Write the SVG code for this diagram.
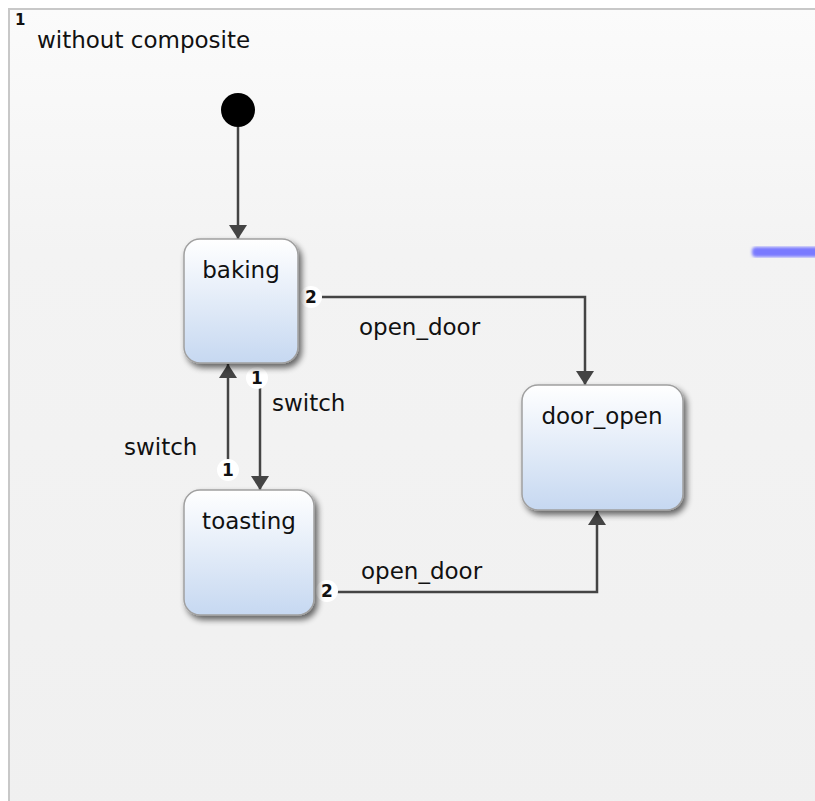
<svg xmlns="http://www.w3.org/2000/svg" width="815" height="801" viewBox="0 0 815 801">
<defs>
<linearGradient id="bg" x1="0" y1="0" x2="0" y2="1">
<stop offset="0" stop-color="#fbfbfb"/>
<stop offset="0.3" stop-color="#f3f3f3"/>
<stop offset="1" stop-color="#f0f0f0"/>
</linearGradient>
<linearGradient id="st" x1="0" y1="0" x2="0" y2="1">
<stop offset="0" stop-color="#ffffff"/>
<stop offset="1" stop-color="#c6d8f1"/>
</linearGradient>
<filter id="sh" x="-20%" y="-20%" width="150%" height="150%">
<feGaussianBlur in="SourceAlpha" stdDeviation="3"/>
<feOffset dx="3" dy="4" result="b"/>
<feComponentTransfer><feFuncA type="linear" slope="0.6"/></feComponentTransfer>
<feMerge><feMergeNode/><feMergeNode in="SourceGraphic"/></feMerge>
</filter>
<filter id="blur"><feGaussianBlur stdDeviation="1.5"/></filter>
<marker id="arr" viewBox="0 0 14 18" refX="14" refY="9" markerWidth="14" markerHeight="18" markerUnits="userSpaceOnUse" orient="auto">
<path d="M0,0 L14,9 L0,18 Z" fill="#444"/>
</marker>
</defs>
<style>
text{font-family:"DejaVu Sans","Liberation Sans",sans-serif;fill:#111;}
.lbl{font-size:23px;}
.name{font-size:23px;text-anchor:middle;}
.num{font-size:17px;font-weight:bold;text-anchor:middle;}
.state{fill:url(#st);stroke:#a0a0a0;stroke-width:1.5;filter:url(#sh);}
.edge{fill:none;stroke:#444;stroke-width:2.5;marker-end:url(#arr);}
.bub{fill:#fff;}
</style>
<rect x="0" y="0" width="815" height="801" fill="#ffffff"/>
<g id="region">
<rect x="9" y="9" width="820" height="810" fill="url(#bg)" stroke="#c8c8c8" stroke-width="2"/>
<text x="15" y="25" style="font-size:15px;font-weight:bold">1</text>
<text x="37" y="48" class="lbl">without composite</text>
</g>
<g id="blue-mark"><rect x="752" y="247" width="70" height="10" rx="4" fill="#7a7aff" filter="url(#blur)"/></g>
<g id="connectors">
<path class="edge" d="M238,127 L238,239"/>
<path class="edge" d="M321,297 L585,297 L585,385"/>
<path class="edge" d="M260,388 L260,490"/>
<path class="edge" d="M228,460 L228,364"/>
<path class="edge" d="M337,592 L597,592 L597,511"/>
<circle class="bub" cx="311" cy="297" r="11"/><text class="num" x="311" y="303">2</text>
<circle class="bub" cx="257" cy="378" r="11"/><text class="num" x="257" y="384">1</text>
<circle class="bub" cx="228" cy="470" r="11"/><text class="num" x="228" y="476">1</text>
<circle class="bub" cx="327" cy="591" r="11"/><text class="num" x="327" y="597">2</text>
<text class="lbl" x="359" y="335">open_door</text>
<text class="lbl" x="272" y="411">switch</text>
<text class="lbl" x="124" y="455">switch</text>
<text class="lbl" x="361" y="579">open_door</text>
</g>
<g id="initial"><circle cx="238" cy="110" r="17" fill="#000"/></g>
<g id="baking">
<rect class="state" x="184" y="239" width="114" height="124" rx="16"/>
<text class="name" x="241" y="278">baking</text>
</g>
<g id="toasting">
<rect class="state" x="184" y="490" width="130" height="125" rx="16"/>
<text class="name" x="249" y="529">toasting</text>
</g>
<g id="door_open">
<rect class="state" x="522" y="385" width="161" height="125" rx="16"/>
<text class="name" x="602" y="424">door_open</text>
</g>
</svg>
